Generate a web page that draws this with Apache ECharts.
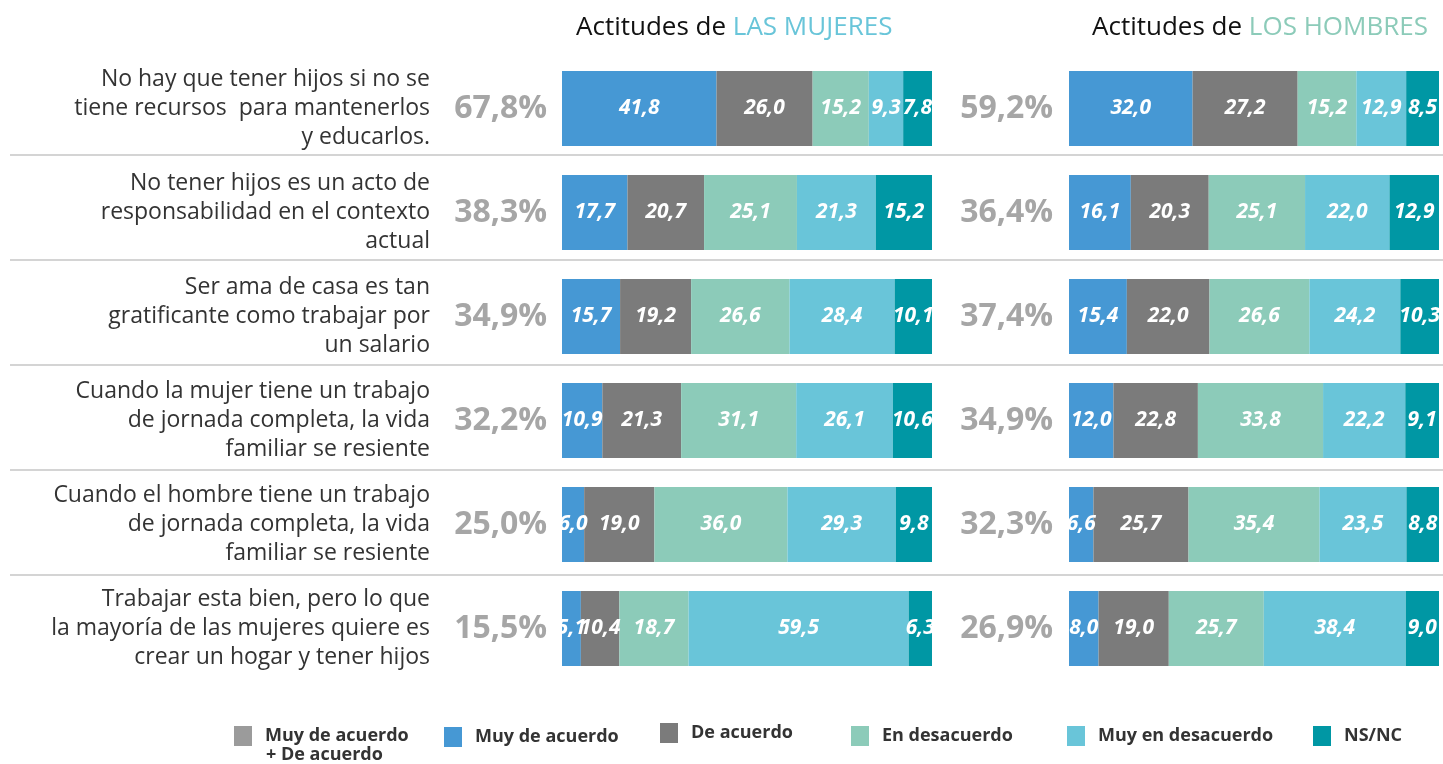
<!DOCTYPE html>
<html>
<head>
<meta charset="utf-8">
<script src="https://cdn.jsdelivr.net/npm/echarts@6/dist/echarts.min.js"></script>
<style>
  html, body { margin: 0; padding: 0; background: #fff; }
  #main { width: 1443px; height: 764px; }
</style>
</head>
<body>
<div id="main"></div>
<script>
// preguntas (con los saltos de linea del original)
var questions = [
  "No hay que tener hijos si no se\ntiene recursos  para mantenerlos\ny educarlos.",
  "No tener hijos es un acto de\nresponsabilidad en el contexto\nactual",
  "Ser ama de casa es tan\ngratificante como trabajar por\nun salario",
  "Cuando la mujer tiene un trabajo\nde jornada completa, la vida\nfamiliar se resiente",
  "Cuando el hombre tiene un trabajo\nde jornada completa, la vida\nfamiliar se resiente",
  "Trabajar esta bien, pero lo que\nla mayoría de las mujeres quiere es\ncrear un hogar y tener hijos"
];

// Muy de acuerdo + De acuerdo
var womenTotal = [67.8, 38.3, 34.9, 32.2, 25.0, 15.5];
var menTotal = [59.2, 36.4, 37.4, 34.9, 32.3, 26.9];

// mujeres
var womenMuyAcuerdo = [41.8, 17.7, 15.7, 10.9, 6.0, 5.1];
var womenAcuerdo = [26.0, 20.7, 19.2, 21.3, 19.0, 10.4];
var womenDesacuerdo = [15.2, 25.1, 26.6, 31.1, 36.0, 18.7];
var womenMuyDesacuerdo = [9.3, 21.3, 28.4, 26.1, 29.3, 59.5];
var womenNsnc = [7.8, 15.2, 10.1, 10.6, 9.8, 6.3];

// hombres
var menMuyAcuerdo = [32.0, 16.1, 15.4, 12.0, 6.6, 8.0];
var menAcuerdo = [27.2, 20.3, 22.0, 22.8, 25.7, 19.0];
var menDesacuerdo = [15.2, 25.1, 26.6, 33.8, 35.4, 25.7];
var menMuyDesacuerdo = [12.9, 22.0, 24.2, 22.2, 23.5, 38.4];
var menNsnc = [8.5, 12.9, 10.3, 9.1, 8.8, 9.0];

var seriesNames = ["Muy de acuerdo", "De acuerdo", "En desacuerdo", "Muy en desacuerdo", "NS/NC"];
var colors = ["#4698d4", "#7b7b7b", "#8ccbb9", "#69c5d9", "#0097a4"];
var totalName = "Muy de acuerdo + De acuerdo";
var font = "Open Sans";

var rows = [0, 1, 2, 3, 4, 5];

function fmt(v) {
  return v.toFixed(1).replace(".", ",");
}

// barras al 100% por fila, la etiqueta enseña el valor original
function buildSeries(groups, gridIdx) {
  var out = [];
  groups.forEach(function (arr, k) {
    out.push({
      name: seriesNames[k],
      type: "bar",
      stack: "g" + gridIdx,
      xAxisIndex: gridIdx,
      yAxisIndex: gridIdx === 0 ? 0 : 2,
      barWidth: 75,
      itemStyle: { color: colors[k] },
      label: {
        show: true,
        position: "inside",
        color: "#fff",
        fontFamily: font,
        fontStyle: "italic",
        fontWeight: "bold",
        fontSize: 21,
        formatter: function (p) { return fmt(p.data.raw); }
      },
      data: arr.map(function (v, i) {
        var sum = 0;
        groups.forEach(function (g) { sum += g[i]; });
        return { value: v / sum * 100, raw: v };
      })
    });
  });
  return out;
}

var women = [womenMuyAcuerdo, womenAcuerdo, womenDesacuerdo, womenMuyDesacuerdo, womenNsnc];
var men = [menMuyAcuerdo, menAcuerdo, menDesacuerdo, menMuyDesacuerdo, menNsnc];

var series = buildSeries(women, 0).concat(buildSeries(men, 1));
// solo para la leyenda (en la rejilla de separadores, sin datos)
series.push({ name: totalName, type: "bar", xAxisIndex: 2, yAxisIndex: 3, data: [], itemStyle: { color: "#9b9b9b" } });

var legendPos = [234, 444, 660, 851, 1067, 1313];
var legendNames = [totalName].concat(seriesNames);
var legendTops = [726, 727, 723, 726, 726, 726];
var legends = legendNames.map(function (n, i) {
  return {
    data: [n],
    left: legendPos[i],
    top: legendTops[i],
    padding: 0,
    itemWidth: 18,
    itemHeight: 20,
    itemGap: 0,
    selectedMode: false,
    icon: "rect",
    formatter: function (name) {
      return name === totalName ? "Muy de acuerdo" : name;
    },
    textStyle: {
      fontFamily: font,
      fontWeight: "bold",
      fontSize: 18,
      color: "#333",
      padding: [0, 0, 0, 8]
    }
  };
});

var titleRich = function (c) {
  return {
    a: { fontFamily: font, fontSize: 26, fontWeight: "normal", color: "#111" },
    b: { fontFamily: font, fontSize: 26, fontWeight: "normal", color: c }
  };
};

var myChart = echarts.init(document.getElementById("main"));
var option = {
  animation: false,
  title: [
    { text: "{a|Actitudes de }{b|LAS MUJERES}", left: 576, top: 15, padding: 0, textStyle: { rich: titleRich("#69c5d9") } },
    { text: "{a|Actitudes de }{b|LOS HOMBRES}", left: 1092, top: 15, padding: 0, textStyle: { rich: titleRich("#8ccbb9") } }
  ],
  legend: legends,
  graphic: [
    {
      type: "text", left: 266, top: 746,
      style: { text: "+ De acuerdo", fontFamily: font, fontWeight: "bold", fontSize: 18, fill: "#333" }
    }
  ],
  grid: [
    { left: 562, width: 370, top: 56.5, height: 624 },
    { left: 1069, width: 370, top: 56.5, height: 624 },
    { left: 10, right: 0, top: 155, height: 420 }
  ],
  xAxis: [
    { gridIndex: 0, type: "value", min: 0, max: 100, show: false },
    { gridIndex: 1, type: "value", min: 0, max: 100, show: false },
    { gridIndex: 2, type: "value", min: 0, max: 1, show: false }
  ],
  yAxis: [
    {
      gridIndex: 0, type: "category", data: rows, inverse: true, position: "left",
      axisLine: { show: false }, axisTick: { show: false },
      axisLabel: {
        margin: 15, fontFamily: font, fontWeight: "bold", fontSize: 32, color: "#a6a6a6",
        formatter: function (v, i) { return fmt(womenTotal[i]) + "%"; }
      }
    },
    {
      gridIndex: 0, type: "category", data: rows, inverse: true, position: "left", offset: 124,
      axisLine: { show: false }, axisTick: { show: false },
      axisLabel: {
        margin: 8, fontFamily: font, fontSize: 23, color: "#333", lineHeight: 29, align: "right",
        formatter: function (v, i) { return questions[i]; }
      }
    },
    {
      gridIndex: 1, type: "category", data: rows, inverse: true, position: "left",
      axisLine: { show: false }, axisTick: { show: false },
      axisLabel: {
        margin: 16, fontFamily: font, fontWeight: "bold", fontSize: 32, color: "#a6a6a6",
        formatter: function (v, i) { return fmt(menTotal[i]) + "%"; }
      }
    },
    {
      gridIndex: 2, type: "value", min: 0, max: 4, interval: 1,
      axisLine: { show: false }, axisTick: { show: false }, axisLabel: { show: false },
      splitLine: { show: true, lineStyle: { color: "#d4d4d4", width: 2 } }
    }
  ],
  series: series
};
option && myChart.setOption(option);
</script>
</body>
</html>
